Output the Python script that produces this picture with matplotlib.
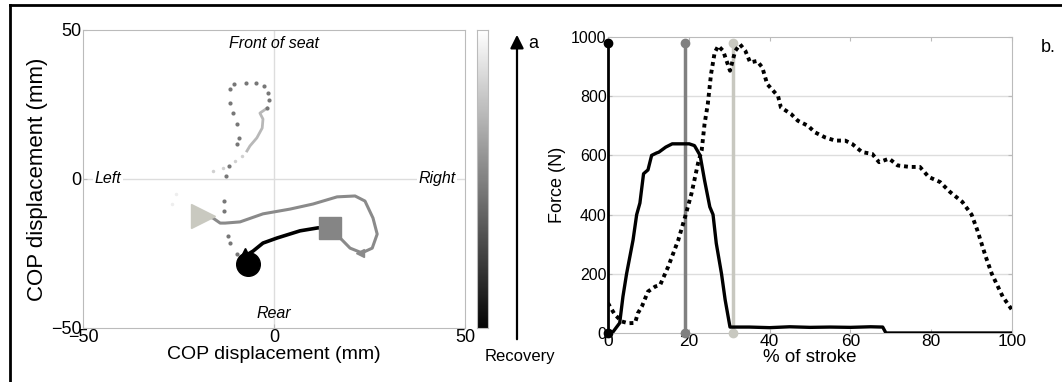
"""COP trajectory and stroke force profile."""
import matplotlib
matplotlib.use('Agg')
import matplotlib.pyplot as plt
import numpy as np
from matplotlib.lines import Line2D
from matplotlib.patches import FancyArrowPatch

plt.rcParams['font.family'] = ['Liberation Sans', 'DejaVu Sans']

# --- panel a: centre of pressure (mm) ---
dots_x = [-9.7, -11.5, -12.0, -13.1, -13.1, -12.6, -11.8, -9.7, -9.2, -9.7,
          -10.7, -11.5, -11.5, -10.5, -7.3, -4.7, -2.6, -1.6, -1.3, -1.8]
dots_y = [-25.2, -21.5, -19.1, -10.7, -7.4, 1.0, 4.4, 11.7, 13.8, 18.5,
          22.1, 25.5, 30.2, 31.9, 32.2, 32.2, 31.2, 28.9, 26.5, 23.8]
light_x = [-1.8, -3.7, -2.9, -3.1, -4.5, -6.3, -7.1]
light_y = [23.8, 22.1, 20.1, 17.1, 13.8, 11.1, 9.4]
faint_x = [-8.4, -10.2, -13.4, -16.0, -25.7, -26.7]
faint_y = [7.7, 6.0, 3.7, 2.7, -5.0, -8.4]
gray_x = [-18.6, -16.0, -14.1, -12.8, -8.9, -2.9, 4.2, 10.2, 16.5, 21.2,
          23.8, 25.9, 27.0, 25.7, 23.0, 19.9, 17.3, 15.4]
gray_y = [-12.4, -13.1, -14.8, -14.8, -14.4, -11.7, -10.1, -8.4, -6.0, -5.7,
          -7.4, -13.1, -18.5, -23.2, -24.8, -23.2, -19.8, -17.4]
black_x = [14.7, 11.5, 6.8, 0.8, -2.9, -5.5, -6.8]
black_y = [-16.4, -16.4, -17.4, -19.8, -21.5, -24.2, -25.2]
start_xy = (-6.9, -28.4)
square_xy = (14.7, -16.4)
triangle_xy = (-18.6, -12.4)
small_tri_xy = (22.5, -24.8)

# --- panel b: force over the stroke ---
stroke_solid = [0, 1.2, 2.9, 3.7, 4.6, 6.2, 7.1, 7.9, 8.8, 9.9, 10.8, 12.0,
                12.6, 14.3, 15.9, 20.1, 21.4, 22.8, 23.9, 25.2, 26.0, 26.8,
                28.1, 29.0, 30.2, 35, 40, 45, 50, 55, 60, 65, 68.0, 68.8, 100]
force_solid = [0, 3, 34, 123, 200, 314, 400, 439, 538, 551, 600, 608,
               611, 628, 639, 639, 633, 600, 516, 426, 400, 303,
               200, 112, 20, 20, 18, 21, 19, 20, 19, 21, 20, 0, 0]
stroke_dot = [0, 0.5, 1.7, 3.4, 5.0, 6.7, 7.4, 8.4, 9.9, 11.7, 12.9, 14.9,
              17.4, 19.1, 20.7, 22.3, 23.2, 23.9, 24.7, 25.5, 26.4, 27.3,
              28.5, 30.2, 31.5, 32.7, 34.0, 35.2, 36.9, 38.2, 39.4, 42.1,
              42.8, 45.3, 47.0, 49.5, 51.2, 53.7, 56.2, 58.7, 60.4, 62.9,
              65.4, 67.1, 69.6, 71.7, 74.7, 77.2, 79.4, 82.2, 84.7, 87.7,
              90.0, 91.4, 93.5, 95.0, 97.7, 100]
force_dot = [101, 89, 62, 39, 33, 34, 67, 90, 140, 157, 162, 224,
             314, 393, 473, 574, 618, 706, 773, 874, 947, 970,
             953, 886, 953, 975, 953, 914, 919, 897, 841, 800,
             762, 740, 717, 700, 678, 661, 650, 650, 639, 611,
             605, 577, 589, 566, 561, 561, 527, 510, 476, 443,
             400, 348, 258, 200, 123, 78]
event_x = [0, 19.0, 31.0]
event_colors = ['black', '#808080', '#c8c8c0']
event_top = 980

fig = plt.figure(figsize=(10.62, 3.82), dpi=100)

# panel a
ax = fig.add_axes([0.0782, 0.1414, 0.3597, 0.7801])
ax.axhline(0, color='#dddddd', lw=1, zorder=0)
ax.axvline(0, color='#dddddd', lw=1, zorder=0)
ax.plot(faint_x[:4], faint_y[:4], 'o', color='#d0d0d0', ms=2.5, mec='none')
ax.plot(faint_x[4:], faint_y[4:], 'o', color='#eeeeee', ms=2.5, mec='none')
ax.plot(light_x, light_y, color='#b8b8b8', lw=2)
ax.plot(dots_x, dots_y, 'o', color='#777777', ms=3, mec='none')
ax.plot(gray_x, gray_y, color='#8a8a8a', lw=2.2)
ax.plot(black_x, black_y, color='black', lw=2.6)
ax.plot(*small_tri_xy, '<', color='#8a8a8a', ms=6)
ax.plot(*square_xy, 's', color='#858585', ms=16)
ax.plot(*triangle_xy, '>', color='#c9c9c0', ms=17)
ax.plot(*start_xy, 'o', color='black', ms=17)
ax.plot(-7.5, -24.8, '^', color='black', ms=7)
ax.set_xlim(-50, 50)
ax.set_ylim(-50, 50)
ax.set_xticks([-50, 0, 50])
ax.set_yticks([-50, 0, 50])
ax.tick_params(labelsize=13, direction='in', length=3, color='#bbbbbb', pad=1)
for s in ax.spines.values():
    s.set_color('#bbbbbb')
ax.set_xlabel('COP displacement (mm)', fontsize=14, labelpad=0)
ax.set_ylabel('COP displacement (mm)', fontsize=16, labelpad=2)
ax.text(0, 45.5, 'Front of seat', style='italic', fontsize=11.5, ha='center', va='center')
ax.text(0, -45, 'Rear', style='italic', fontsize=11.5, ha='center', va='center')
ax.text(-47, 0, 'Left', style='italic', fontsize=11.5, ha='left', va='center',
        bbox=dict(fc='white', ec='none', pad=1))
ax.text(47.5, 0, 'Right', style='italic', fontsize=11.5, ha='right', va='center',
        bbox=dict(fc='white', ec='none', pad=1))

# grey scale bar
cax = fig.add_axes([0.4492, 0.1414, 0.0104, 0.7801])
cax.imshow(np.linspace(0, 1, 256)[:, None], cmap='gray', origin='lower',
           aspect='auto', vmin=-0.02, vmax=1.0)
cax.set_xticks([])
cax.set_yticks([])
for s in cax.spines.values():
    s.set_color('#bbbbbb')

fig.add_artist(FancyArrowPatch((517, 40), (517, 350), transform=None,
                               arrowstyle='-|>,head_length=8,head_width=4',
                               color='black', lw=1.6))
fig.text(533 / 1062, 1 - 43 / 382, 'a', fontsize=13, ha='center', va='center')
fig.text(520 / 1062, 1 - 356 / 382, 'Recovery', fontsize=12, ha='center', va='center')

# panel b
bx = fig.add_axes([0.5725, 0.1283, 0.3804, 0.7749])
for y in [200, 400, 600, 800]:
    bx.axhline(y, color='#dddddd', lw=1, zorder=0)
for x, c in zip(event_x, event_colors):
    bx.plot([x, x], [0, event_top], '-o', color=c, lw=2.5 if x else 2,
            ms=6, clip_on=False, zorder=3)
bx.plot(stroke_solid, force_solid, color='black', lw=2.4, zorder=4)
bx.plot(stroke_dot, force_dot, color='black', lw=2.8, ls=(0, (1, 1)), zorder=4)
bx.set_xlim(0, 100)
bx.set_ylim(0, 1000)
bx.set_xticks([0, 20, 40, 60, 80, 100])
bx.set_yticks([0, 200, 400, 600, 800, 1000])
bx.tick_params(direction='in', top=True, right=True, length=3,
               color='#bbbbbb', pad=1)
bx.tick_params(axis='x', labelsize=12.5)
bx.tick_params(axis='y', labelsize=11.5)
for s in bx.spines.values():
    s.set_color('#bbbbbb')
bx.set_xlabel('% of stroke', fontsize=13.5, labelpad=0)
bx.set_ylabel('Force (N)', fontsize=13, labelpad=4)
fig.text(1048 / 1062, 1 - 47 / 382, 'b.', fontsize=13, ha='center', va='center')

# panel frame
fig.add_artist(Line2D([10 / 1062, 10 / 1062], [0, 1 - 5 / 382], color='black', lw=2))
fig.add_artist(Line2D([10 / 1062, 1], [1 - 5 / 382, 1 - 5 / 382], color='black', lw=2))

fig.savefig('out.png', dpi=100)
